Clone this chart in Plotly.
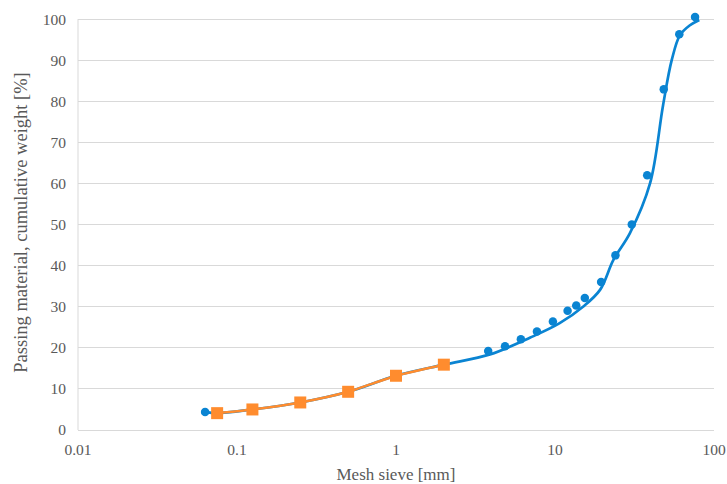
import plotly.graph_objects as go

# Measured points (blue dots)
meas_x = [0.063, 3.8, 4.85, 6.1, 7.7, 9.7, 12.0, 13.6, 15.4, 19.5, 24.0, 30.4, 38.0, 48.3, 60.5, 76.0]
meas_y = [4.4, 19.2, 20.4, 22.1, 24.0, 26.4, 29.0, 30.3, 32.1, 36.0, 42.5, 50.0, 62.0, 82.9, 96.3, 100.5]

# Smoothed fitted curve (blue line)
curve_x = [0.063, 0.075, 0.125, 0.25, 0.5, 1.0, 2.0, 3.9, 7.0, 10.7, 15.0, 19.2, 23.3, 29.6, 39.6, 47.8, 54.2, 61.1, 70.6, 80.8]
curve_y = [4.4, 4.1, 5.0, 6.7, 9.3, 13.2, 15.9, 18.4, 22.5, 26.0, 30.0, 34.1, 41.4, 47.9, 60.0, 79.0, 90.0, 96.1, 98.5, 99.8]

# Second series (orange squares)
fine_x = [0.075, 0.125, 0.25, 0.5, 1.0, 2.0]
fine_y = [4.1, 5.0, 6.7, 9.3, 13.2, 15.9]

x_tickvals = [0.01, 0.1, 1, 10, 100]
x_ticktext = ["0.01", "0.1", "1", "10", "100"]
y_tickvals = [0, 10, 20, 30, 40, 50, 60, 70, 80, 90, 100]

blue = "#0A84D2"
orange = "#FF8C2E"
txt = "#595959"
grid = "#d9d9d9"

fig = go.Figure()
fig.add_trace(go.Scatter(x=curve_x, y=curve_y, mode="lines",
                         line=dict(color=blue, width=2.7, shape="spline", smoothing=1.0),
                         cliponaxis=False, hoverinfo="skip"))
fig.add_trace(go.Scatter(x=meas_x, y=meas_y, mode="markers",
                         marker=dict(color=blue, size=8.5, symbol="circle"), cliponaxis=False))
fig.add_trace(go.Scatter(x=fine_x, y=fine_y, mode="lines+markers",
                         line=dict(color=orange, width=2.5, shape="spline", smoothing=0.6),
                         marker=dict(color=orange, size=12, symbol="square"), cliponaxis=False))

font_family = "Liberation Serif"
fig.update_layout(
    width=727, height=484,
    margin=dict(l=78, r=13, t=15, b=54),
    paper_bgcolor="white", plot_bgcolor="white",
    showlegend=False,
    font=dict(family=font_family, color=txt, size=15),
    xaxis=dict(type="log", range=[-2, 2], tickvals=x_tickvals, ticktext=x_ticktext,
               automargin=False,
               showgrid=False, zeroline=False, showline=True, linecolor=grid, linewidth=1,
               ticks="", ticklabelstandoff=5, tickfont=dict(family=font_family, size=15.5, color=txt),
               title=dict(text="Mesh sieve [mm]", font=dict(family=font_family, size=17, color=txt), standoff=12)),
    yaxis=dict(range=[0, 101], tickvals=y_tickvals, automargin=False,
               showgrid=True, gridcolor=grid, gridwidth=1, zeroline=False,
               showline=False,
               ticks="", ticklabelstandoff=11, tickfont=dict(family=font_family, size=15.5, color=txt),
               title=dict(text="Passing material, cumulative weight [%]", font=dict(family=font_family, size=18.5, color=txt), standoff=10)),
    shapes=[dict(type="line", xref="paper", yref="y", x0=0, x1=0, y0=0, y1=100,
                 line=dict(color=grid, width=1), layer="below")],
)

fig.write_html("out.html", config={"displayModeBar": False},
               post_script="document.body.style.margin='0';document.body.style.overflow='hidden';")
